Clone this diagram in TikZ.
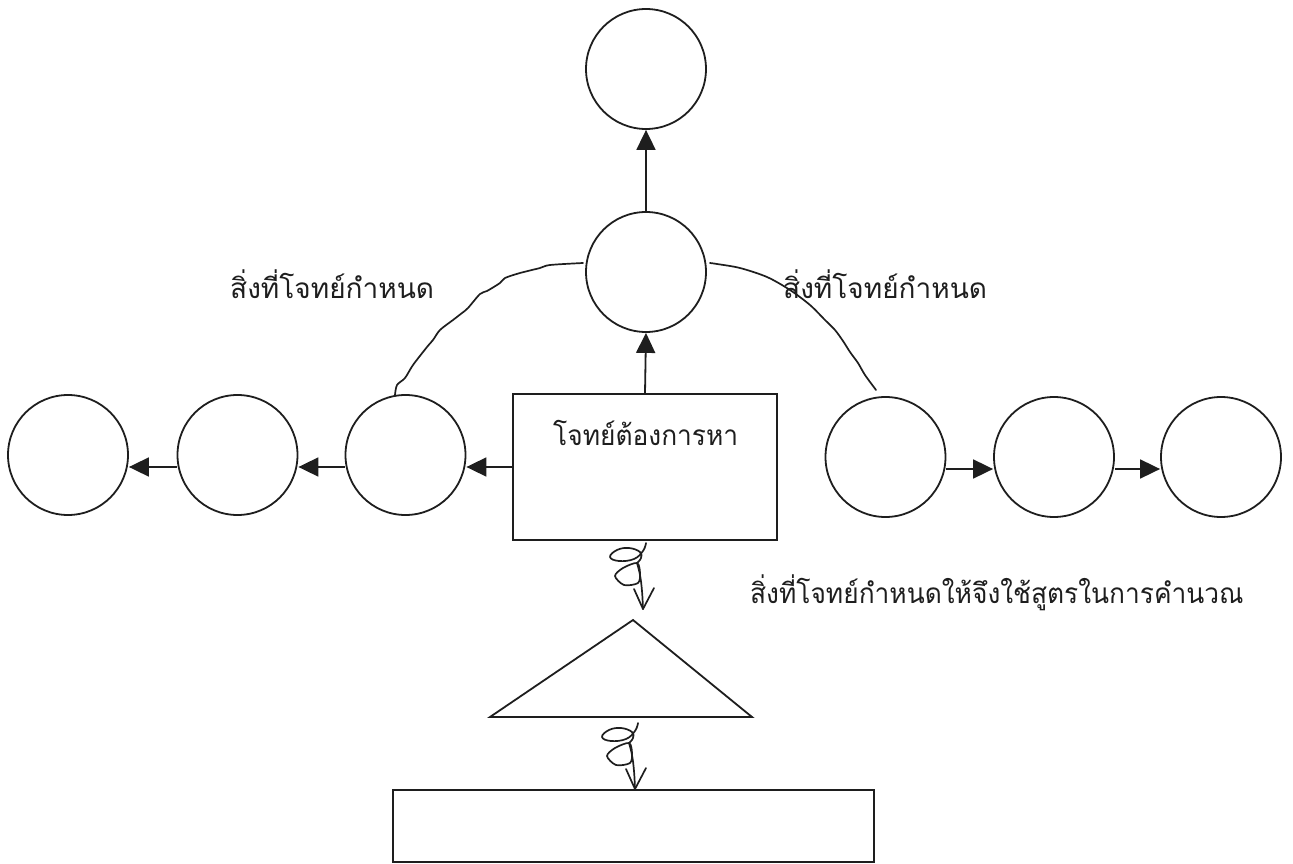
\documentclass[tikz,border=0pt]{standalone}
\usepackage{fontspec}
\newfontfamily\thaifont[Script=Thai]{Loma}
\newfontfamily\thainarrow[Script=Thai, FakeStretch=0.94]{Loma}
\usetikzlibrary{arrows.meta}
\definecolor{ink}{HTML}{1E1E1E}
\tikzset{
  bubble/.style={circle, draw=ink, line width=1.8pt, minimum size=120pt, inner sep=0pt},
  box/.style={rectangle, draw=ink, line width=1.8pt, inner sep=0pt},
  arr/.style={draw=ink, line width=1.8pt, -{Triangle[length=20pt,width=19pt]}},
  hand/.style={draw=ink, line width=1.7pt, line cap=round, line join=round},
  label/.style={text=ink, inner sep=0pt, font=\thaifont\fontsize{28}{32}\selectfont},
  narrowlabel/.style={text=ink, inner sep=0pt, font=\thainarrow\fontsize{28}{32}\selectfont},
  handarrow/.pic={
    % looped handwritten stroke followed by an open arrow
    \draw[hand] plot[smooth, tension=0.7] coordinates
      {(0,0) (-3,8) (-12,16) (-27,18) (-36,14) (-29,7) (-17,5) (-6,9) (-5,15) (-9,20)};
    \draw[hand] plot[smooth cycle, tension=0.5] coordinates
      {(-9,20) (-23,25) (-31,33) (-22,42) (-8,40) (-6,30)};
    \draw[hand] plot[smooth, tension=0.7] coordinates
      {(-9,20) (-6,32) (-4,48) (-3,66)};
    \draw[hand] (-12,46) -- (-3,66) -- (8,45);
  }
}
\begin{document}
\begin{tikzpicture}[x=1pt, y=-1pt]
\useasboundingbox (0,0) rectangle (1293,864);

% central column
\node[bubble] (T1) at (646,69) {};
\node[bubble] (T2) at (646,272) {};
\node[box, minimum width=264pt, minimum height=146pt] (box) at (645,467) {};
\node[narrowlabel, anchor=base west] (boxtext) at (553,445) {โจทย์ต้องการหา};

% left chain
\node[bubble] (L1) at (405.5,455) {};
\node[bubble] (L2) at (237.5,455) {};
\node[bubble] (L3) at (68,455) {};

% right chain
\node[bubble] (R1) at (885.5,457) {};
\node[bubble] (R2) at (1054,457) {};
\node[bubble] (R3) at (1221,457) {};

% formula triangle and answer box
\coordinate (apex) at (633,620);
\coordinate (baseL) at (490,717);
\coordinate (baseR) at (752,717);
\draw[ink, line width=1.8pt, line join=miter] (baseL) -- (apex) -- (baseR) -- cycle;
\node[box, minimum width=481pt, minimum height=72pt] (answer) at (633.5,826) {};

% labels
\node[label, anchor=base west] (givenL) at (230,298) {สิ่งที่โจทย์กำหนด};
\node[label, anchor=base west] (givenR) at (783,298) {สิ่งที่โจทย์กำหนด};
\node[narrowlabel, anchor=base west] (formula) at (750,603) {สิ่งที่โจทย์กำหนดให้จึงใช้สูตรในการคำนวณ};

% arrows
\draw[arr] (box.north) -- (T2.south);
\draw[arr] (T2.north) -- (T1.south);
\draw[arr] (box.west) -- (box.west -| L1.east);
\draw[arr] ([yshift=-12pt]L1.west) -- ([yshift=-12pt]L2.east);
\draw[arr] ([yshift=-12pt]L2.west) -- ([yshift=-12pt]L3.east);
\draw[arr] ([yshift=-12pt]R1.east) -- ([yshift=-12pt]R2.west);
\draw[arr] ([yshift=-12pt]R2.east) -- ([yshift=-12pt]R3.west);

% freehand arcs linking the given quantities
\draw[hand] plot[smooth, tension=0.5] coordinates
  {(395,395) (397,385) (405,378) (413,365) (427,347) (433,340) (440,330)
   (453,320) (462,313) (468,308) (480,294) (487,291) (500,283) (505,278)
   (520,273) (540,268) (550,265) (583,263)};
\draw[hand] plot[smooth, tension=0.5] coordinates
  {(710,263) (717,264) (740,268) (767,277) (790,290) (810,305) (825,320)
   (835,330) (843,341) (850,352) (858,363) (865,375) (876,390)};

% handwritten arrows
\pic at (646,543) {handarrow};
\pic at (638,723) {handarrow};
\end{tikzpicture}
\end{document}
